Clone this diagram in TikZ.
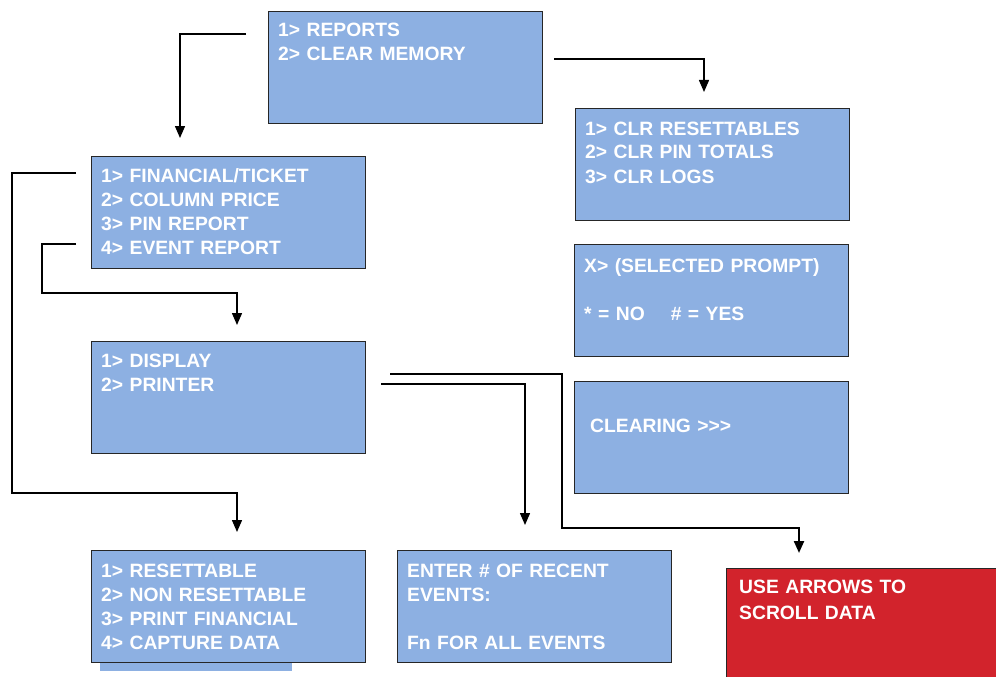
\documentclass[tikz,border=0pt]{standalone}
\usepackage{fontspec}
\setmainfont{Liberation Sans}
\usetikzlibrary{arrows.meta}
\definecolor{menublue}{RGB}{141,176,226}
\definecolor{alertred}{RGB}{210,35,44}
\tikzset{>={Triangle[width=10pt,length=12pt]}}
\tikzset{
  menu/.style={draw=black!85, line width=1.2pt, fill=menublue, anchor=north west,
    minimum width=274pt, minimum height=112pt, inner sep=0pt},
  menutext/.style={anchor=base west, text=white, align=left, text width=262pt,
    inner sep=0pt, font=\fontsize{19.3}{24}\selectfont\bfseries},
  link/.style={->, line width=1.4pt},
  heavylink/.style={->, line width=2.2pt}
}

\begin{document}
\begin{tikzpicture}[x=1pt, y=-1pt]
    \useasboundingbox (0,0) rectangle (996,677);
    % menu boxes
    \fill[menublue] (100,660) rectangle (292,671);
    \node[menu] (main) at (268,11) {};
    \node[menu] (clrmenu) at (575,108) {};
    \node[menu] (confirm) at (574,244) {};
    \node[menu] (clearing) at (574,381) {};
    \node[menu] (reports) at (91,156) {};
    \node[menu] (output) at (91,341) {};
    \node[menu] (financial) at (91,550) {};
    \node[menu] (events) at (397,550) {};
    \node[draw=black!85, line width=1.2pt, fill=alertred, anchor=north west,
        minimum width=300pt, minimum height=130pt] (scroll) at (726,568) {};
    % menu texts
    \node[menutext] at ([shift={(10,26)}]main.north west) {1> REPORTS\\2> CLEAR MEMORY};
    \node[menutext] at ([shift={(10,27)}]clrmenu.north west) {1> CLR RESETTABLES\\2> CLR PIN TOTALS\\3> CLR LOGS};
    \node[menutext] at ([shift={(10,28)}]confirm.north west) {X> (SELECTED PROMPT)\\[24pt]* = NO\hspace{26pt}\# = YES};
    \node[menutext] at ([shift={(16,51)}]clearing.north west) {CLEARING >{}>{}>};
    \node[menutext] at ([shift={(10,26)}]reports.north west) {1> FINANCIAL/TICKET\\2> COLUMN PRICE\\3> PIN REPORT\\4> EVENT REPORT};
    \node[menutext] at ([shift={(10,26)}]output.north west) {1> DISPLAY\\2> PRINTER};
    \node[menutext] at ([shift={(10,27)}]financial.north west) {1> RESETTABLE\\2> NON RESETTABLE\\3> PRINT FINANCIAL\\4> CAPTURE DATA};
    \node[menutext] at ([shift={(10,27)}]events.north west) {ENTER \# OF RECENT\\EVENTS:\\[24pt]Fn FOR ALL EVENTS};
    \node[menutext] at ([shift={(13,25)}]scroll.north west) {USE ARROWS TO\\[2pt]SCROLL DATA};
    % connectors
    \coordinate (mainout) at (246,34);
    \coordinate (reportsin) at (180,138);
    \coordinate (clearout) at (554,59);
    \coordinate (clrin) at (704,92);
    \coordinate (finout) at (76,173);
    \coordinate (finbend) at (12,493);
    \coordinate (finin) at (237,532);
    \coordinate (eventout) at (76,244);
    \coordinate (eventbend) at (42,293);
    \coordinate (outputin) at (237,325);
    \coordinate (displayout) at (390,374);
    \coordinate (displaybend) at (562,528);
    \coordinate (scrollin) at (799,553);
    \coordinate (printerout) at (381,384);
    \coordinate (eventsin) at (525,525);
    \draw[link] (mainout) -| (reportsin);
    \draw[link] (clearout) -| (clrin);
    \draw[link] (finout) -| (finbend) -| (finin);
    \draw[link] (eventout) -| (eventbend) -| (outputin);
    \draw[heavylink] (displayout) -| (displaybend) -| (scrollin);
    \draw[link] (printerout) -| (eventsin);
\end{tikzpicture}
\end{document}
